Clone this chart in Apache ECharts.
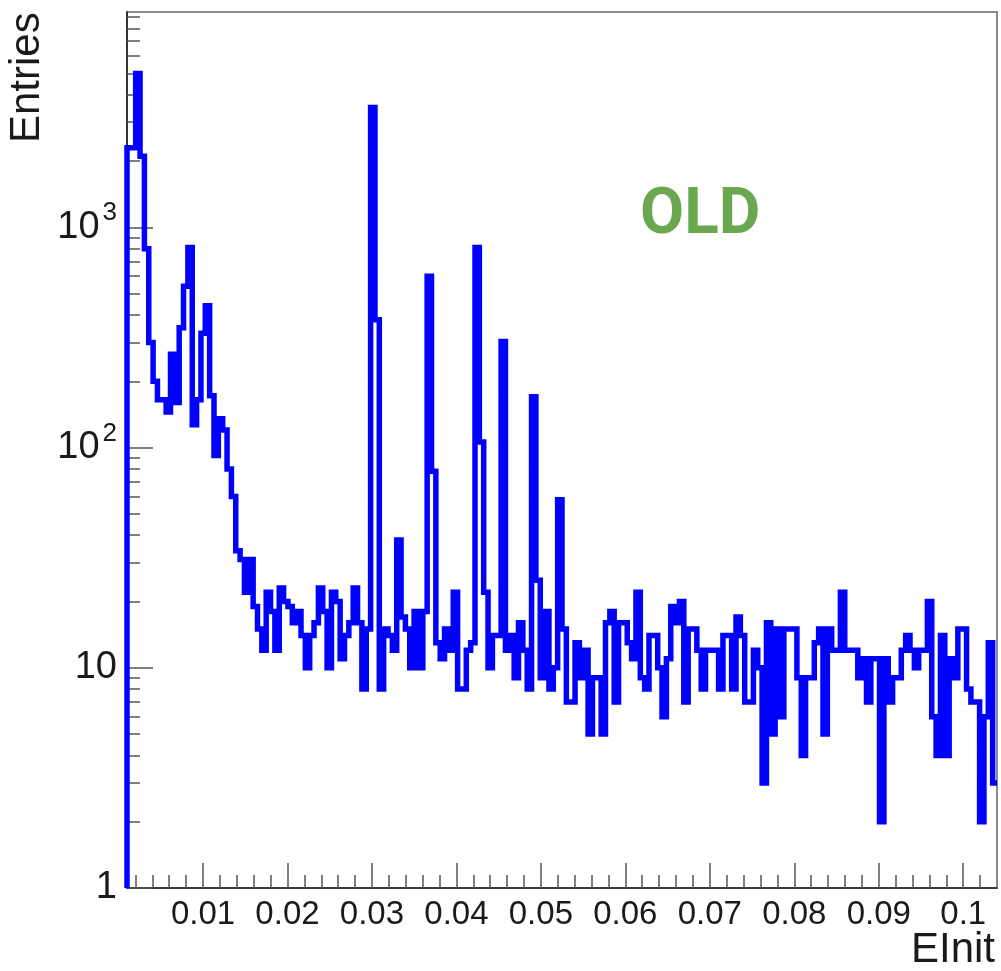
<!DOCTYPE html>
<html>
<head>
<meta charset="utf-8">
<title>EInit</title>
<script src="https://cdn.jsdelivr.net/npm/echarts@6/dist/echarts.min.js"></script>
<style>
html, body { margin: 0; padding: 0; background: #ffffff; }
#main { width: 1001px; height: 971px; }
</style>
</head>
<body>
<div id="main"></div>
<script>
// histogram: 200 bins between 0.001 and 0.104
var binLow = 0.001;
var binHigh = 0.104;
var nBins = 200;

var entries = [
	2300, 2300, 5000, 2100, 800, 300, 200, 165, 165, 145,
	265, 160, 350, 540, 810, 127, 165, 330, 440, 172,
	92, 135, 120, 80, 60, 34, 31, 22, 31, 19,
	15, 12, 22, 18, 12, 23, 20, 19, 16, 18,
	14, 10, 14, 16, 23, 18, 10, 22, 20, 11,
	14, 16, 23, 16, 8, 15, 3500, 380, 8, 15,
	14, 12, 38, 17, 15, 10, 18, 10, 18, 600,
	78, 13, 11, 15, 12, 22, 8, 8, 12, 13,
	809, 106, 22, 10, 14, 14, 303, 12, 14, 9,
	16, 12, 8, 170, 25, 9, 18, 8, 10, 58,
	15, 7, 7, 13, 9, 12, 5, 9, 9, 5,
	16, 18, 7, 16, 16, 13, 11, 22, 9, 8,
	14, 14, 10, 6, 11, 19, 16, 20, 7, 15,
	15, 12, 8, 12, 12, 12, 8, 14, 14, 8,
	17, 14, 7, 7, 12, 10, 3, 16, 5, 15,
	6, 15, 15, 15, 9, 4, 9, 9, 13, 15,
	5, 15, 12, 12, 22, 12, 12, 12, 9, 11,
	7, 11, 11, 2, 11, 7, 9, 9, 12, 14,
	12, 10, 12, 12, 20, 6, 4, 14, 4, 11,
	9, 15, 15, 8, 7, 7, 2, 6, 13, 3
];

var xTicks = [0.01, 0.02, 0.03, 0.04, 0.05, 0.06, 0.07, 0.08, 0.09, 0.1];
var xTickLabels = ['0.01', '0.02', '0.03', '0.04', '0.05', '0.06', '0.07', '0.08', '0.09', '0.1'];
var yTicks = [1, 10, 100, 1000];
var yTickLabels = [['1', ''], ['10', ''], ['10', '2'], ['10', '3']];
var yMin = 1;
var yMax = 9500;

var textFont = '"Liberation Sans", Arial, sans-serif';

function minorX() {
	var out = [];
	for (var k = 1; k * 0.002 < binHigh; k++) {
		if (k % 5 === 0) continue;
		out.push(+(k * 0.002).toFixed(4));
	}
	return out;
}

function minorY() {
	var out = [];
	for (var d = 0; d < yTicks.length; d++) {
		for (var m = 2; m <= 9; m++) {
			var v = yTicks[d] * m;
			if (v < yMax) out.push(v);
		}
	}
	return out;
}

function histPoints() {
	var w = (binHigh - binLow) / nBins;
	var pts = [[binLow, yMin]];
	for (var i = 0; i < entries.length; i++) {
		pts.push([binLow + i * w, entries[i]]);
	}
	pts.push([binHigh, entries[entries.length - 1]]);
	return pts;
}

function findIndex(list, v, useLog) {
	for (var i = 0; i < list.length; i++) {
		var a = useLog ? Math.log10(list[i]) : list[i];
		var b = useLog ? Math.log10(v) : v;
		if (Math.abs(a - b) < 1e-6) return i;
	}
	return -1;
}

function genOption() {
	var option = {
		backgroundColor : '#ffffff',
		animation : false,
		grid : {
			left : 127,
			top : 12,
			right : 4,
			bottom : 83,
			show : true,
			borderColor : '#8a8a8a',
			borderWidth : 2,
			backgroundColor : '#ffffff'
		},
		xAxis : [ {
			type : 'value',
			min : binLow,
			max : binHigh,
			axisLine : { lineStyle : { color : '#222', width : 1.5 } },
			splitLine : { show : false },
			axisTick : {
				inside : true,
				length : 25,
				customValues : xTicks,
				lineStyle : { color : '#555', width : 1.5 }
			},
			axisLabel : {
				customValues : xTicks,
				margin : 10,
				fontSize : 33,
				fontFamily : textFont,
				color : '#1a1a1a',
				formatter : function(v) {
					var i = findIndex(xTicks, v, false);
					return i < 0 ? '' : xTickLabels[i];
				}
			}
		}, {
			type : 'value',
			min : binLow,
			max : binHigh,
			position : 'bottom',
			axisLine : { show : false },
			splitLine : { show : false },
			axisLabel : { show : false },
			axisTick : {
				inside : true,
				length : 13,
				customValues : minorX(),
				lineStyle : { color : '#555', width : 1.5 }
			}
		} ],
		yAxis : [ {
			type : 'log',
			min : yMin,
			max : yMax,
			axisLine : { show : true, lineStyle : { color : '#333', width : 2 } },
			splitLine : { show : false },
			axisTick : {
				inside : true,
				length : 26,
				customValues : yTicks,
				lineStyle : { color : '#555', width : 1.5 }
			},
			axisLabel : {
				customValues : yTicks,
				margin : 10,
				formatter : function(v) {
					var i = findIndex(yTicks, v, true);
					if (i < 0) return '';
					var t = yTickLabels[i];
					return t[1] ? '{n|' + t[0] + '}{s|' + t[1] + '}' : '{n|' + t[0] + '}';
				},
				rich : {
					n : { fontSize : 38, lineHeight : 54, fontFamily : textFont, color : '#1a1a1a' },
					s : { fontSize : 26, lineHeight : 26, verticalAlign : 'top', padding : [0, 0, 0, 3], fontFamily : textFont, color : '#1a1a1a' }
				}
			}
		}, {
			type : 'log',
			min : yMin,
			max : yMax,
			position : 'left',
			axisLine : { show : false },
			splitLine : { show : false },
			axisLabel : { show : false },
			axisTick : {
				inside : true,
				length : 13,
				customValues : minorY(),
				lineStyle : { color : '#555', width : 1.5 }
			}
		} ],
		graphic : [ {
			type : 'text',
			x : 27,
			y : 143,
			rotation : Math.PI / 2,
			style : { text : 'Entries', font : '42px ' + textFont, fill : '#1a1a1a', align : 'left', verticalAlign : 'middle' }
		}, {
			type : 'text',
			x : 995,
			y : 950,
			style : { text : 'EInit', font : '42px ' + textFont, fill : '#1a1a1a', align : 'right', verticalAlign : 'middle' }
		}, {
			type : 'text',
			x : 640,
			y : 217,
			style : { text : 'OLD', font : 'bold 64px Roboto, "Open Sans", sans-serif', fill : '#6aa84f', align : 'left', verticalAlign : 'middle' }
		} ],
		series : [ {
			name : 'EInit',
			type : 'line',
			step : 'end',
			xAxisIndex : 0,
			yAxisIndex : 0,
			symbol : 'none',
			lineStyle : { color : '#0000ff', width : 5.5, join : 'miter' },
			data : histPoints()
		} ]
	};
	return option;
}

function showChart(divId) {
	var chart = echarts.init(document.getElementById(divId));
	chart.setOption(genOption(), true);
}

showChart('main');
</script>
</body>
</html>
